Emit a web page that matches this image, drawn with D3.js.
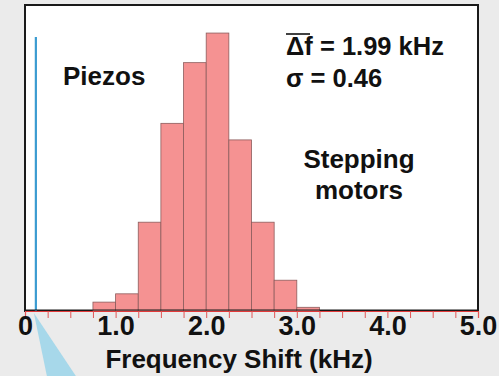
<!DOCTYPE html>
<html>
<head>
<meta charset="utf-8">
<script src="https://cdn.jsdelivr.net/npm/d3@7"></script>
<style>
  html, body { margin: 0; padding: 0; background: #ebebeb; }
  svg text { font-family: "Liberation Sans", Arial, Helvetica, sans-serif; font-weight: bold; fill: #111; }
</style>
</head>
<body>
<div id="viz"></div>
<script>
// histogram bins (kHz, 0.25 wide) and relative counts (% of plot height)
const binStarts = [0.75, 1.0, 1.25, 1.5, 1.75, 2.0, 2.25, 2.5, 2.75, 3.0];
const binCounts = [3.0, 5.8, 30, 63.4, 83.9, 93.9, 57.8, 30, 10.4, 1.25];
const binWidth = 0.25;

// piezo spike
const piezoShift = 0.12;
const piezoCount = 92.6;

const xTickLabels = [0, 1, 2, 3, 4, 5];

const width = 499, height = 376;
const margin = { top: 5, right: 21, bottom: 65, left: 25 };

const svg = d3.select('#viz').append('svg')
  .attr('width', width)
  .attr('height', height);

const x = d3.scaleLinear().domain([0, 5]).range([margin.left, width - margin.right]);
const y = d3.scaleLinear().domain([0, 100]).range([height - margin.bottom, 15]);
const base = y(0);

// light blue callout wedge below the piezo line
const px = x(piezoShift);
svg.append('polygon')
  .attr('points', [[px - 2, base + 2], [px + 11, height], [px + 40, height]].map(p => p.join(',')).join(' '))
  .attr('fill', '#a7d8ea');

// plot frame
svg.append('rect')
  .attr('x', margin.left)
  .attr('y', margin.top)
  .attr('width', x(5) - x(0))
  .attr('height', base - margin.top)
  .attr('fill', '#fff')
  .attr('stroke', '#1a1a1a')
  .attr('stroke-width', 2);

// bars
svg.selectAll('.bar')
  .data(binStarts.map((s, i) => ({ s, c: binCounts[i] })))
  .enter().append('rect')
  .attr('class', 'bar')
  .attr('x', d => x(d.s))
  .attr('y', d => y(d.c))
  .attr('width', d => x(d.s + binWidth) - x(d.s))
  .attr('height', d => base - y(d.c))
  .attr('fill', '#f59292')
  .attr('stroke', '#8c5c5c')
  .attr('stroke-width', 0.8);

// piezo line
svg.append('line')
  .attr('x1', px).attr('x2', px)
  .attr('y1', y(piezoCount)).attr('y2', base)
  .attr('stroke', '#3b9bd1')
  .attr('stroke-width', 2.2);

// red tick axis
const tickAxis = svg.append('g')
  .attr('transform', `translate(0,${base})`)
  .call(d3.axisBottom(x).tickValues(d3.range(0, 5.001, 0.25)).tickSize(7).tickFormat(''));
tickAxis.select('.domain').attr('stroke', '#e23a3a').attr('stroke-width', 1.2);
tickAxis.selectAll('.tick line').attr('stroke', '#e25555').attr('stroke-width', 1);

// black bottom edge of the frame
svg.append('line')
  .attr('x1', x(0)).attr('x2', x(5))
  .attr('y1', base - 1).attr('y2', base - 1)
  .attr('stroke', '#1a1a1a').attr('stroke-width', 1.2);

// tick labels
const labelAxis = svg.append('g')
  .attr('transform', `translate(0,${base})`)
  .call(d3.axisBottom(x).tickValues(xTickLabels).tickSize(0)
    .tickFormat(d => d === 0 ? '0' : d.toFixed(1)));
labelAxis.select('.domain').remove();
labelAxis.selectAll('text')
  .attr('dy', null)
  .attr('y', 24)
  .attr('font-size', 27)
  .attr('font-family', '"Liberation Sans", Arial, sans-serif')
  .attr('font-weight', 'bold')
  .attr('fill', '#111');

// axis title
svg.append('text')
  .attr('x', 239)
  .attr('y', 368)
  .attr('text-anchor', 'middle')
  .attr('font-size', 26)
  .text('Frequency Shift (kHz)');

// annotations
svg.append('text').attr('x', 63).attr('y', 85).attr('font-size', 26).text('Piezos');

svg.append('text').attr('x', 286).attr('y', 55).attr('font-size', 25.5).text('Δf = 1.99 kHz');
svg.append('line')
  .attr('x1', 286).attr('x2', 310)
  .attr('y1', 34).attr('y2', 34)
  .attr('stroke', '#111').attr('stroke-width', 1.6);
svg.append('text').attr('x', 286).attr('y', 87).attr('font-size', 25.5).text('σ = 0.46');

svg.append('text').attr('x', 359).attr('y', 168).attr('text-anchor', 'middle').attr('font-size', 26).text('Stepping');
svg.append('text').attr('x', 359).attr('y', 199).attr('text-anchor', 'middle').attr('font-size', 26).text('motors');
</script>
</body>
</html>
